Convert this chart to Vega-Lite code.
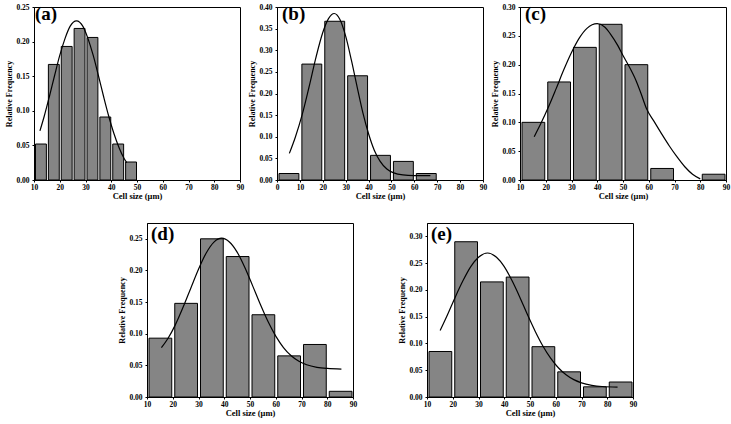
{
  "$schema": "https://vega.github.io/schema/vega-lite/v6.json",
  "padding": {"left": 5, "top": 2, "right": 0, "bottom": 0},
  "background": "white",
  "config": {
    "font": "Liberation Serif",
    "view": {"stroke": "black", "strokeWidth": 1},
    "axis": {
      "grid": false,
      "domainColor": "black",
      "tickColor": "black",
      "labelColor": "black",
      "titleColor": "black",
      "labelFont": "Liberation Serif",
      "labelFontWeight": "bold",
      "labelFontSize": 7.5,
      "titleFont": "Liberation Serif",
      "titleFontWeight": "bold",
      "titleFontSize": 8.5,
      "tickSize": 2,
      "labelPadding": 1,
      "titlePadding": 1,
      "labelOverlap": false,
      "labelFlush": false,
      "labelBound": false
    },
    "axisY": {"titleFontSize": 8, "titlePadding": 2, "labelPadding": 3},
    "title": {
      "font": "Liberation Serif",
      "fontSize": 19,
      "fontWeight": "bold",
      "color": "black",
      "anchor": "start",
      "frame": "group",
      "baseline": "alphabetic",
      "offset": -21
    }
  },
  "datasets": {
    "a_bars": [
      {"lo": 10, "hi": 15, "freq": 0.052},
      {"lo": 15, "hi": 20, "freq": 0.167},
      {"lo": 20, "hi": 25, "freq": 0.193},
      {"lo": 25, "hi": 30, "freq": 0.219},
      {"lo": 30, "hi": 35, "freq": 0.206},
      {"lo": 35, "hi": 40, "freq": 0.091},
      {"lo": 40, "hi": 45, "freq": 0.052},
      {"lo": 45, "hi": 50, "freq": 0.026}
    ],
    "a_fit": [
      {"size": 12.3, "fit": 0.071}, {"size": 14, "fit": 0.0925}, {"size": 16, "fit": 0.121},
      {"size": 18, "fit": 0.151}, {"size": 20, "fit": 0.18}, {"size": 22, "fit": 0.204},
      {"size": 24, "fit": 0.222}, {"size": 26.5, "fit": 0.23}, {"size": 29, "fit": 0.222},
      {"size": 31, "fit": 0.204}, {"size": 33, "fit": 0.18}, {"size": 35, "fit": 0.151},
      {"size": 37, "fit": 0.121}, {"size": 39, "fit": 0.0925}, {"size": 41, "fit": 0.0675},
      {"size": 43, "fit": 0.047}, {"size": 45, "fit": 0.031}, {"size": 46, "fit": 0.025}
    ],
    "b_bars": [
      {"lo": 0, "hi": 10, "freq": 0.015},
      {"lo": 10, "hi": 20, "freq": 0.268},
      {"lo": 20, "hi": 30, "freq": 0.367},
      {"lo": 30, "hi": 40, "freq": 0.241},
      {"lo": 40, "hi": 50, "freq": 0.057},
      {"lo": 50, "hi": 60, "freq": 0.043},
      {"lo": 60, "hi": 70, "freq": 0.015}
    ],
    "b_fit": [
      {"size": 5.4, "fit": 0.0615}, {"size": 8, "fit": 0.0988}, {"size": 11, "fit": 0.151},
      {"size": 14, "fit": 0.215}, {"size": 17, "fit": 0.283}, {"size": 20, "fit": 0.341},
      {"size": 22.5, "fit": 0.373}, {"size": 25, "fit": 0.385}, {"size": 27.5, "fit": 0.371},
      {"size": 30, "fit": 0.3325}, {"size": 32.5, "fit": 0.277}, {"size": 35, "fit": 0.2155},
      {"size": 37.5, "fit": 0.156}, {"size": 40, "fit": 0.107}, {"size": 42.5, "fit": 0.069},
      {"size": 45, "fit": 0.0437}, {"size": 48, "fit": 0.0255}, {"size": 51, "fit": 0.0164},
      {"size": 55, "fit": 0.0117}, {"size": 60, "fit": 0.0103}, {"size": 67, "fit": 0.01}
    ],
    "c_bars": [
      {"lo": 10, "hi": 20, "freq": 0.1},
      {"lo": 20, "hi": 30, "freq": 0.17},
      {"lo": 30, "hi": 40, "freq": 0.23},
      {"lo": 40, "hi": 50, "freq": 0.27},
      {"lo": 50, "hi": 60, "freq": 0.2},
      {"lo": 60, "hi": 70, "freq": 0.02},
      {"lo": 80, "hi": 90, "freq": 0.01}
    ],
    "c_fit": [
      {"size": 15.5, "fit": 0.075}, {"size": 18, "fit": 0.097}, {"size": 21, "fit": 0.126},
      {"size": 24, "fit": 0.158}, {"size": 27, "fit": 0.191}, {"size": 30, "fit": 0.221},
      {"size": 33, "fit": 0.246}, {"size": 36, "fit": 0.263}, {"size": 40, "fit": 0.271},
      {"size": 43, "fit": 0.265}, {"size": 45, "fit": 0.254}, {"size": 48, "fit": 0.233},
      {"size": 50, "fit": 0.216}, {"size": 52, "fit": 0.2}, {"size": 55, "fit": 0.173},
      {"size": 57, "fit": 0.15}, {"size": 59.2, "fit": 0.123}, {"size": 62, "fit": 0.102},
      {"size": 65, "fit": 0.08}, {"size": 68, "fit": 0.059}, {"size": 71, "fit": 0.04},
      {"size": 74, "fit": 0.023}, {"size": 77, "fit": 0.01}, {"size": 80, "fit": 0.002}
    ],
    "d_bars": [
      {"lo": 10, "hi": 20, "freq": 0.093},
      {"lo": 20, "hi": 30, "freq": 0.148},
      {"lo": 30, "hi": 40, "freq": 0.25},
      {"lo": 40, "hi": 50, "freq": 0.222},
      {"lo": 50, "hi": 60, "freq": 0.13},
      {"lo": 60, "hi": 70, "freq": 0.065},
      {"lo": 70, "hi": 80, "freq": 0.083},
      {"lo": 80, "hi": 90, "freq": 0.009}
    ],
    "d_fit": [
      {"size": 15.6, "fit": 0.078}, {"size": 18, "fit": 0.0916}, {"size": 21, "fit": 0.114},
      {"size": 24, "fit": 0.1417}, {"size": 27, "fit": 0.172}, {"size": 30, "fit": 0.202},
      {"size": 33, "fit": 0.2276}, {"size": 36, "fit": 0.2448}, {"size": 39, "fit": 0.251},
      {"size": 42, "fit": 0.245}, {"size": 45, "fit": 0.229}, {"size": 48, "fit": 0.2047},
      {"size": 51, "fit": 0.176}, {"size": 54, "fit": 0.1465}, {"size": 57, "fit": 0.1192},
      {"size": 60, "fit": 0.0962}, {"size": 63, "fit": 0.0782}, {"size": 66, "fit": 0.0652},
      {"size": 69, "fit": 0.0564}, {"size": 72, "fit": 0.0509}, {"size": 76, "fit": 0.0469},
      {"size": 80, "fit": 0.0451}, {"size": 85.5, "fit": 0.0442}
    ],
    "e_bars": [
      {"lo": 10, "hi": 20, "freq": 0.085},
      {"lo": 20, "hi": 30, "freq": 0.29},
      {"lo": 30, "hi": 40, "freq": 0.215},
      {"lo": 40, "hi": 50, "freq": 0.224},
      {"lo": 50, "hi": 60, "freq": 0.094},
      {"lo": 60, "hi": 70, "freq": 0.047},
      {"lo": 70, "hi": 80, "freq": 0.019},
      {"lo": 80, "hi": 90, "freq": 0.028}
    ],
    "e_fit": [
      {"size": 15.1, "fit": 0.124}, {"size": 18, "fit": 0.154}, {"size": 21, "fit": 0.187},
      {"size": 24, "fit": 0.2175}, {"size": 27, "fit": 0.2435}, {"size": 30, "fit": 0.261},
      {"size": 33.5, "fit": 0.269}, {"size": 37, "fit": 0.261}, {"size": 40, "fit": 0.2435},
      {"size": 43, "fit": 0.2175}, {"size": 46, "fit": 0.187}, {"size": 49, "fit": 0.154},
      {"size": 52, "fit": 0.123}, {"size": 55, "fit": 0.0953}, {"size": 58, "fit": 0.0725},
      {"size": 61, "fit": 0.0546}, {"size": 64, "fit": 0.0415}, {"size": 67, "fit": 0.0324},
      {"size": 70, "fit": 0.0264}, {"size": 74, "fit": 0.0218}, {"size": 78, "fit": 0.0196},
      {"size": 84, "fit": 0.0186}
    ]
  },
  "spacing": 21,
  "vconcat": [
    {
      "spacing": 37,
      "bounds": "flush",
      "hconcat": [
        {
          "width": 206, "height": 173,
          "title": {"text": "(a)", "dx": 1},
          "layer": [
            {
              "data": {"name": "a_bars"},
              "mark": {"type": "bar", "fill": "#858585", "stroke": "black", "strokeWidth": 1, "binSpacing": 2},
              "encoding": {
                "x": {"field": "lo", "bin": "binned", "type": "quantitative", "title": "Cell size (μm)", "scale": {"domain": [10, 90], "nice": false}, "axis": {"values": [10, 20, 30, 40, 50, 60, 70, 80, 90], "tickCount": 9, "format": "d", "labelOverlap": false}},
                "x2": {"field": "hi"},
                "y": {"field": "freq", "type": "quantitative", "title": "Relative Frequency", "scale": {"domain": [0, 0.25], "nice": false}, "axis": {"values": [0, 0.05, 0.1, 0.15, 0.2, 0.25], "tickCount": 6, "format": ".2f", "labelOverlap": false}}
              }
            },
            {
              "data": {"name": "a_fit"},
              "mark": {"type": "line", "color": "black", "strokeWidth": 1.2, "interpolate": "monotone"},
              "encoding": {
                "x": {"field": "size", "type": "quantitative", "title": "Cell size (μm)", "axis": {"values": [10, 20, 30, 40, 50, 60, 70, 80, 90], "tickCount": 9, "format": "d", "labelOverlap": false}},
                "y": {"field": "fit", "type": "quantitative", "title": "Relative Frequency", "axis": {"values": [0, 0.05, 0.1, 0.15, 0.2, 0.25], "tickCount": 6, "format": ".2f", "labelOverlap": false}}
              }
            }
          ]
        },
        {
          "width": 206, "height": 173,
          "title": {"text": "(b)", "dx": 5},
          "layer": [
            {
              "data": {"name": "b_bars"},
              "mark": {"type": "bar", "fill": "#858585", "stroke": "black", "strokeWidth": 1, "binSpacing": 3},
              "encoding": {
                "x": {"field": "lo", "bin": "binned", "type": "quantitative", "title": "Cell size (μm)", "scale": {"domain": [0, 90], "nice": false}, "axis": {"values": [0, 10, 20, 30, 40, 50, 60, 70, 80, 90], "tickCount": 10, "format": "d", "labelOverlap": false}},
                "x2": {"field": "hi"},
                "y": {"field": "freq", "type": "quantitative", "title": "Relative Frequency", "scale": {"domain": [0, 0.4], "nice": false}, "axis": {"values": [0, 0.05, 0.1, 0.15, 0.2, 0.25, 0.3, 0.35, 0.4], "tickCount": 9, "format": ".2f", "labelOverlap": false}}
              }
            },
            {
              "data": {"name": "b_fit"},
              "mark": {"type": "line", "color": "black", "strokeWidth": 1.2, "interpolate": "monotone"},
              "encoding": {
                "x": {"field": "size", "type": "quantitative", "title": "Cell size (μm)", "axis": {"values": [0, 10, 20, 30, 40, 50, 60, 70, 80, 90], "tickCount": 10, "format": "d", "labelOverlap": false}},
                "y": {"field": "fit", "type": "quantitative", "title": "Relative Frequency", "axis": {"values": [0, 0.05, 0.1, 0.15, 0.2, 0.25, 0.3, 0.35, 0.4], "tickCount": 9, "format": ".2f", "labelOverlap": false}}
              }
            }
          ]
        },
        {
          "width": 206, "height": 173,
          "title": {"text": "(c)", "dx": 5},
          "layer": [
            {
              "data": {"name": "c_bars"},
              "mark": {"type": "bar", "fill": "#858585", "stroke": "black", "strokeWidth": 1, "binSpacing": 3},
              "encoding": {
                "x": {"field": "lo", "bin": "binned", "type": "quantitative", "title": "Cell size (μm)", "scale": {"domain": [10, 90], "nice": false}, "axis": {"values": [10, 20, 30, 40, 50, 60, 70, 80, 90], "tickCount": 9, "format": "d", "labelOverlap": false}},
                "x2": {"field": "hi"},
                "y": {"field": "freq", "type": "quantitative", "title": "Relative Frequency", "scale": {"domain": [0, 0.3], "nice": false}, "axis": {"values": [0, 0.05, 0.1, 0.15, 0.2, 0.25, 0.3], "tickCount": 7, "format": ".2f", "labelOverlap": false}}
              }
            },
            {
              "data": {"name": "c_fit"},
              "mark": {"type": "line", "color": "black", "strokeWidth": 1.2, "interpolate": "monotone"},
              "encoding": {
                "x": {"field": "size", "type": "quantitative", "title": "Cell size (μm)", "axis": {"values": [10, 20, 30, 40, 50, 60, 70, 80, 90], "tickCount": 9, "format": "d", "labelOverlap": false}},
                "y": {"field": "fit", "type": "quantitative", "title": "Relative Frequency", "axis": {"values": [0, 0.05, 0.1, 0.15, 0.2, 0.25, 0.3], "tickCount": 7, "format": ".2f", "labelOverlap": false}}
              }
            }
          ]
        }
      ]
    },
    {
      "spacing": 74,
      "bounds": "flush",
      "hconcat": [
        {
          "width": 39, "height": 174,
          "view": {"stroke": null},
          "data": {"values": [{}]},
          "mark": {"type": "point", "opacity": 0},
          "encoding": {}
        },
        {
          "width": 206, "height": 174,
          "title": {"text": "(d)", "dx": 4},
          "layer": [
            {
              "data": {"name": "d_bars"},
              "mark": {"type": "bar", "fill": "#858585", "stroke": "black", "strokeWidth": 1, "binSpacing": 3},
              "encoding": {
                "x": {"field": "lo", "bin": "binned", "type": "quantitative", "title": "Cell size (μm)", "scale": {"domain": [10, 90], "nice": false}, "axis": {"values": [10, 20, 30, 40, 50, 60, 70, 80, 90], "tickCount": 9, "format": "d", "labelOverlap": false}},
                "x2": {"field": "hi"},
                "y": {"field": "freq", "type": "quantitative", "title": "Relative Frequency", "scale": {"domain": [0, 0.275], "nice": false}, "axis": {"values": [0, 0.05, 0.1, 0.15, 0.2, 0.25], "tickCount": 6, "format": ".2f", "labelOverlap": false}}
              }
            },
            {
              "data": {"name": "d_fit"},
              "mark": {"type": "line", "color": "black", "strokeWidth": 1.2, "interpolate": "monotone"},
              "encoding": {
                "x": {"field": "size", "type": "quantitative", "title": "Cell size (μm)", "axis": {"values": [10, 20, 30, 40, 50, 60, 70, 80, 90], "tickCount": 9, "format": "d", "labelOverlap": false}},
                "y": {"field": "fit", "type": "quantitative", "title": "Relative Frequency", "axis": {"values": [0, 0.05, 0.1, 0.15, 0.2, 0.25], "tickCount": 6, "format": ".2f", "labelOverlap": false}}
              }
            }
          ]
        },
        {
          "width": 206, "height": 174,
          "title": {"text": "(e)", "dx": 4},
          "layer": [
            {
              "data": {"name": "e_bars"},
              "mark": {"type": "bar", "fill": "#858585", "stroke": "black", "strokeWidth": 1, "binSpacing": 3},
              "encoding": {
                "x": {"field": "lo", "bin": "binned", "type": "quantitative", "title": "Cell size (μm)", "scale": {"domain": [10, 90], "nice": false}, "axis": {"values": [10, 20, 30, 40, 50, 60, 70, 80, 90], "tickCount": 9, "format": "d", "labelOverlap": false}},
                "x2": {"field": "hi"},
                "y": {"field": "freq", "type": "quantitative", "title": "Relative Frequency", "scale": {"domain": [0, 0.325], "nice": false}, "axis": {"values": [0, 0.05, 0.1, 0.15, 0.2, 0.25, 0.3], "tickCount": 7, "format": ".2f", "labelOverlap": false}}
              }
            },
            {
              "data": {"name": "e_fit"},
              "mark": {"type": "line", "color": "black", "strokeWidth": 1.2, "interpolate": "monotone"},
              "encoding": {
                "x": {"field": "size", "type": "quantitative", "title": "Cell size (μm)", "axis": {"values": [10, 20, 30, 40, 50, 60, 70, 80, 90], "tickCount": 9, "format": "d", "labelOverlap": false}},
                "y": {"field": "fit", "type": "quantitative", "title": "Relative Frequency", "axis": {"values": [0, 0.05, 0.1, 0.15, 0.2, 0.25, 0.3], "tickCount": 7, "format": ".2f", "labelOverlap": false}}
              }
            }
          ]
        }
      ]
    }
  ]
}
